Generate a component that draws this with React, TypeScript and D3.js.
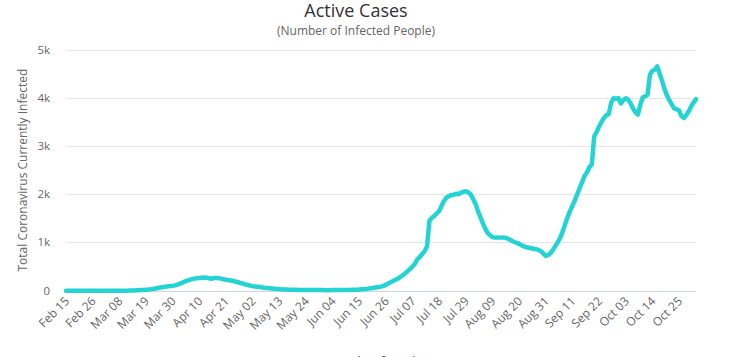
import React from "react";
import * as d3 from "d3";

const title = "Active Cases";
const subtitle = "(Number of Infected People)";
const yAxisTitle = "Total Coronavirus Currently Infected";
const legendLabel = "Currently Infected";
const startDate = "2020-02-15";

const tickLabels = [
  "Feb 15", "Feb 26", "Mar 08", "Mar 19", "Mar 30", "Apr 10", "Apr 21", "May 02",
  "May 13", "May 24", "Jun 04", "Jun 15", "Jun 26", "Jul 07", "Jul 18", "Jul 29",
  "Aug 09", "Aug 20", "Aug 31", "Sep 11", "Sep 22", "Oct 03", "Oct 14", "Oct 25",
];
const tickEvery = 11;

const yTicks = [0, 1000, 2000, 3000, 4000, 5000];
const yTickLabels = ["0", "1k", "2k", "3k", "4k", "5k"];

// Daily active cases, Feb 15 .. Nov 1
const activeCases = [
  // Feb 15 - Mar 19
  0, 0, 0, 0, 0, 0, 0, 0, 0, 0, 0, 0, 0, 0, 0, 0, 0, 0, 0, 0, 0, 0, 0, 0, 0,
  1, 2, 4, 6, 8, 10, 12, 15, 18,
  // Mar 20 - Mar 30
  22, 28, 35, 45, 55, 65, 75, 82, 90, 95, 100,
  // Mar 31 - Apr 10
  110, 125, 145, 165, 190, 210, 225, 240, 250, 258, 262,
  // Apr 11 - Apr 21
  268, 272, 270, 258, 248, 262, 265, 260, 250, 238, 228,
  // Apr 22 - May 2
  220, 210, 200, 190, 175, 160, 145, 130, 118, 105, 95,
  // May 3 - May 13
  88, 82, 75, 68, 60, 55, 50, 45, 40, 36, 32,
  // May 14 - May 24
  28, 26, 24, 22, 20, 19, 18, 17, 16, 15, 15,
  // May 25 - Jun 4
  14, 14, 13, 13, 12, 12, 12, 11, 11, 11, 12,
  // Jun 5 - Jun 15
  12, 12, 13, 13, 14, 15, 16, 18, 20, 22, 25,
  // Jun 16 - Jun 26
  28, 32, 38, 45, 52, 60, 68, 75, 85, 100, 125,
  // Jun 27 - Jul 7
  150, 175, 200, 225, 250, 285, 320, 360, 405, 450, 500,
  // Jul 8 - Jul 18
  560, 650, 700, 760, 820, 920, 1450, 1510, 1550, 1600, 1650,
  // Jul 19 - Jul 29
  1760, 1860, 1930, 1960, 1980, 1990, 2010, 2000, 2030, 2050, 2060,
  // Jul 30 - Aug 9
  2040, 2000, 1900, 1800, 1650, 1530, 1400, 1290, 1200, 1150, 1110,
  // Aug 10 - Aug 20
  1100, 1105, 1100, 1105, 1100, 1090, 1060, 1035, 1010, 990, 970,
  // Aug 21 - Aug 31
  940, 920, 900, 890, 880, 870, 860, 845, 820, 770, 720,
  // Sep 1 - Sep 11
  740, 780, 850, 930, 1010, 1100, 1230, 1380, 1520, 1650, 1760,
  // Sep 12 - Sep 22
  1880, 2000, 2130, 2250, 2380, 2450, 2560, 2620, 3200, 3290, 3400,
  // Sep 23 - Oct 3
  3500, 3580, 3640, 3660, 3900, 3990, 3980, 3990, 3880, 3950, 3990,
  // Oct 4 - Oct 14
  3960, 3880, 3780, 3700, 3650, 3850, 4010, 4030, 4060, 4480, 4560,
  // Oct 15 - Oct 25
  4580, 4650, 4500, 4350, 4180, 4050, 3950, 3860, 3780, 3760, 3740,
  // Oct 26 - Nov 1
  3620, 3580, 3640, 3720, 3820, 3900, 3970,
];

const W = 734;
const H = 357;
const FONT = "'Open Sans', 'DejaVu Sans', sans-serif";
const LINE_COLOR = "#24d4d4";

export default function App() {
  const plotLeft = 66;
  const plotRight = 696;
  const plotTop = 49.5;
  const plotBottom = 290.7;

  const start = new Date(startDate + "T00:00:00");
  const dates = activeCases.map((_, i) => d3.timeDay.offset(start, i));

  const x = d3
    .scalePoint<number>()
    .domain(activeCases.map((_, i) => i))
    .range([plotLeft, plotRight]);
  const y = d3.scaleLinear().domain([0, 5000]).range([plotBottom, plotTop]);

  const line = d3
    .line<number>()
    .x((_, i) => x(i) as number)
    .y((d) => y(d))
    .curve(d3.curveLinear);

  const ticks = tickLabels.map((label, k) => ({ label, idx: k * tickEvery }));

  return (
    <svg
      width={W}
      height={H}
      style={{ position: "absolute", left: 0, top: 0, background: "#fff" }}
      fontFamily={FONT}
    >
      <rect x={0} y={0} width={W} height={H} fill="#fff" />
      <text x={356} y={17} textAnchor="middle" fontSize={18} fill="#333333">
        {title}
      </text>
      <text x={356} y={35} textAnchor="middle" fontSize={12} fill="#666666">
        {subtitle}
      </text>

      {yTicks.map((t, i) => (
        <g key={t}>
          {t > 0 && (
            <line
              x1={plotLeft}
              x2={plotRight}
              y1={Math.round(y(t)) + 0.5}
              y2={Math.round(y(t)) + 0.5}
              stroke="#e6e6e6"
              strokeWidth={1}
            />
          )}
          <text
            x={50}
            y={y(t)}
            dy="0.35em"
            textAnchor="end"
            fontSize={11.5}
            fill="#666666"
          >
            {yTickLabels[i]}
          </text>
        </g>
      ))}

      <line
        x1={plotLeft}
        x2={plotRight}
        y1={Math.round(y(0)) + 0.5}
        y2={Math.round(y(0)) + 0.5}
        stroke="#ccd6eb"
        strokeWidth={1}
      />

      <text
        transform={`translate(27, ${(plotTop + plotBottom) / 2}) rotate(-90)`}
        textAnchor="middle"
        fontSize={12}
        fill="#666666"
      >
        {yAxisTitle}
      </text>

      {ticks.map((t) => (
        <text
          key={t.label}
          transform={`translate(${(x(t.idx) as number) + 4}, 302) rotate(-45)`}
          textAnchor="end"
          fontSize={12}
          fill="#666666"
        >
          {t.label}
        </text>
      ))}

      <path
        d={line(activeCases) || ""}
        fill="none"
        stroke={LINE_COLOR}
        strokeWidth={4.5}
        strokeLinejoin="round"
        strokeLinecap="round"
      />

      <text x={365} y={366} textAnchor="middle" fontSize={12} fill="#333333">
        {legendLabel}
      </text>
      <title>{dates.length}</title>
    </svg>
  );
}
